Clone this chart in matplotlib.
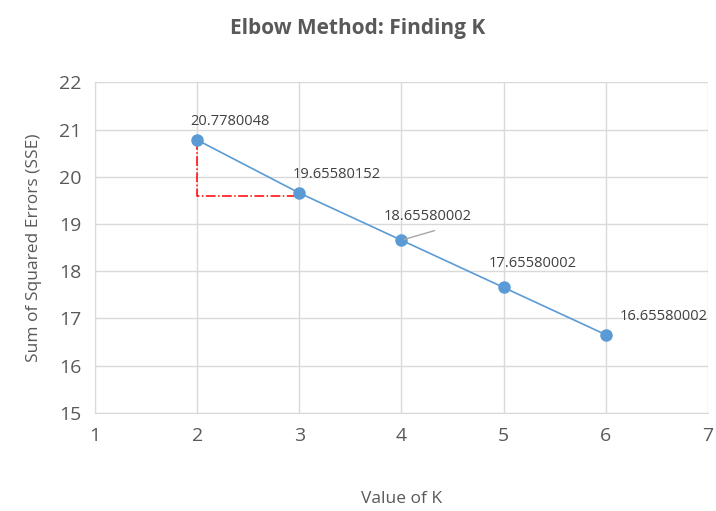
import matplotlib.pyplot as plt

plt.rcParams['font.family'] = ['Open Sans', 'DejaVu Sans']

k_values = [2, 3, 4, 5, 6]
sse = [20.7780048, 19.65580152, 18.65580002, 17.65580002, 16.65580002]
labels = ["20.7780048", "19.65580152", "18.65580002", "17.65580002", "16.65580002"]
# label offsets in points (dx, dy)
offsets = [(-5, 8), (-5, 8), (-13, 12), (-11, 12), (10, 8)]
elbow_y = 19.6

grey = '#595959'
blue = '#5b9bd5'

fig = plt.figure(figsize=(7.16, 5.11), dpi=100)
ax = fig.add_axes([0.1327, 0.192, 0.856, 0.647])

ax.plot(k_values, sse, color=blue, lw=1.2, marker='o', ms=8,
        markerfacecolor=blue, markeredgecolor=blue, zorder=3)

# elbow guide
ax.plot([k_values[0], k_values[0], k_values[1]], [sse[0], elbow_y, elbow_y],
        color='red', ls='-.', lw=1.1, zorder=2)

for i, (x, y) in enumerate(zip(k_values, sse)):
    dx, dy = offsets[i]
    ax.annotate(labels[i], (x, y), xytext=(dx, dy), textcoords='offset points',
                fontsize=10.5, color='#404040', ha='left', va='bottom')

# leader line for label at K=4
ax.annotate('', xy=(k_values[2], sse[2]), xytext=(k_values[2] + 0.35, sse[2] + 0.22),
            arrowprops=dict(arrowstyle='-', color='#a6a6a6', lw=1))

ax.set_xlim(1, 7)
ax.set_ylim(15, 22)
ax.set_xticks(range(1, 8))
ax.set_yticks(range(15, 23))
ax.grid(True, color='#d9d9d9', lw=1)
ax.set_axisbelow(True)
for side in ['top', 'right']:
    ax.spines[side].set_visible(False)
ax.spines['left'].set_color('#d9d9d9')
ax.spines['bottom'].set_color('#d9d9d9')
ax.tick_params(length=0, labelsize=14, labelcolor=grey, pad=10)

ax.set_xlabel('Value of K', fontsize=12.5, color=grey, labelpad=33)
ax.set_ylabel('Sum of Squared Errors (SSE)', fontsize=12.5, color=grey, labelpad=12)
fig.suptitle('Elbow Method: Finding K', fontsize=15, fontweight='bold',
             color=grey, x=0.5, y=0.965)

fig.savefig('out.png', dpi=100)
